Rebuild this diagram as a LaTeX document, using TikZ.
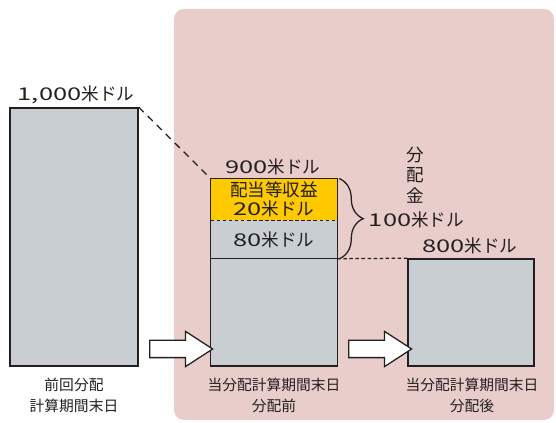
\documentclass[tikz,border=0pt]{standalone}
\usepackage{fontspec}
\setmainfont{Noto Sans CJK JP}
\newfontfamily\digitfont[FakeStretch=1.45]{Noto Sans CJK JP}
\usepackage{xcolor}
\definecolor{panel}{HTML}{E8CDCA}
\definecolor{barfill}{HTML}{C9CED2}
\definecolor{yieldfill}{HTML}{FFC900}
\definecolor{ink}{HTML}{231F20}
\usepackage{tikz}
\usetikzlibrary{shapes,arrows.meta,positioning,calc,decorations.pathreplacing}
\newcommand{\usd}[1]{{\digitfont #1}米ドル}

\begin{document}
\begin{tikzpicture}[
      bar/.style={rectangle, fill=barfill, draw=ink, line width=1.1pt, minimum width=3.15cm, inner sep=0pt},
      part/.style={rectangle, minimum width=3.15cm, inner sep=0pt, text=ink, font=\fontsize{12.5}{13}\selectfont, align=center},
      amount/.style={text=ink, font=\fontsize{12.5}{14.5}\selectfont, align=center},
      caption/.style={text=ink, font=\fontsize{10.5}{15}\selectfont, align=center},
      flow/.style={single arrow, draw=ink, fill=white, line width=0.9pt, minimum height=1.575cm, inner xsep=0pt, inner ysep=0.2cm, single arrow head extend=0.225cm, single arrow tip angle=66},
      link/.style={ink, line width=0.9pt}
    ]
      \useasboundingbox (0,0) rectangle (13.9,10.575);
      \fill[panel, rounded corners=0.25cm] (4.35,0.075) rectangle (13.85,10.35);

      \node[bar, minimum width=3.2cm, minimum height=6.45cm] (prev) at (1.85,4.65) {};
      \node[amount] (prevval) at (1.9,8.2) {\usd{1,000}};

      \node[part, fill=barfill, minimum height=2.675cm] (base) at (6.85,2.7625) {};
      \node[part, fill=barfill, minimum height=0.95cm, above=0pt of base] (share80) {\usd{80}};
      \node[part, fill=yieldfill, minimum height=1.025cm, above=0pt of share80] (share20) {配当等収益\\\usd{20}};
      \draw[link, line width=1.1pt] (base.south west) rectangle (share20.north east);
      \draw[link, line width=1.1pt] (base.north west) -- (base.north east);
      \draw[link, dash pattern=on 2.5pt off 1.8pt] (share80.north west) -- (share80.north east);
      \node[amount] (beforeval) at (6.825,6.4) {\usd{900}};

      \node[bar, minimum height=2.675cm] (after) at (11.775,2.7625) {};
      \node[amount] (afterval) at (11.75,4.425) {\usd{800}};

      \draw[link, dash pattern=on 5pt off 4pt] (prev.north east) -- (share20.north west);
      \draw[link, dash pattern=on 2.5pt off 1.8pt] (base.north east) -- (after.north west);

      \draw[link, decorate, decoration={brace, amplitude=0.6cm}] ($(share20.north east)+(0.05,0)$) -- ($(base.north east)+(0.05,0)$);
      \node[amount, anchor=west] (total) at (9.1,5.0875) {\usd{100}};
      \node[amount] (payout) at (10.375,6.2) {分\\配\\金};

      \node[flow] (arrA) at (4.3625,1.85) {};
      \node[flow] (arrB) at (9.3375,1.85) {};

      \node[caption] (prevcap) at (1.85,0.69) {前回分配\\計算期間末日};
      \node[caption] (beforecap) at (6.85,0.69) {当分配計算期間末日\\分配前};
      \node[caption] (aftercap) at (11.8,0.69) {当分配計算期間末日\\分配後};
    \end{tikzpicture}
\end{document}
